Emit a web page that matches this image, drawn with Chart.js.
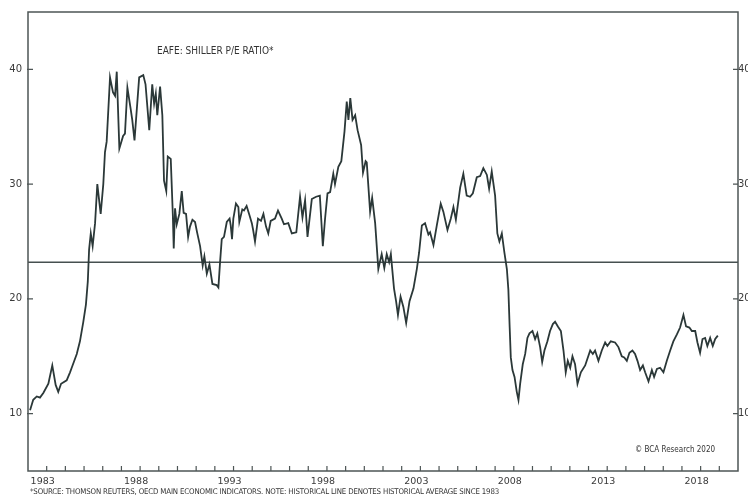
<!DOCTYPE html>
<html lang="en">
<head>
  <meta charset="UTF-8">
  <title>EAFE Shiller P/E Ratio</title>
  <style>
    body {
      margin: 0;
      background: white;
      font-family: "DejaVu Sans", sans-serif;
    }
    #wrap {
      position: relative;
      width: 748px;
      height: 502px;
      overflow: hidden;
    }
    canvas {
      display: block;
    }
    .note {
      position: absolute;
      white-space: nowrap;
      color: #333;
      font-family: "Liberation Sans Narrow", "DejaVu Sans Condensed", sans-serif;
    }
    #title { left: 157px; top: 45px; font-size: 10px; }
    #copy { left: 635px; top: 445px; font-size: 8px; }
    #source { left: 30px; top: 487px; font-size: 7.8px; letter-spacing: -0.15px; }
  </style>
  <script src="https://cdn.jsdelivr.net/npm/chart.js"></script>
</head>
<body>
  <div id="wrap">
    <canvas id="myChart" width="748" height="502"></canvas>
    <div class="note" id="title">EAFE: SHILLER P/E RATIO*</div>
    <div class="note" id="copy">© BCA Research 2020</div>
    <div class="note" id="source">*SOURCE: THOMSON REUTERS, OECD MAIN ECONOMIC INDICATORS. NOTE: HISTORICAL LINE DENOTES HISTORICAL AVERAGE SINCE 1983</div>
  </div>

  <script>
    // Shiller P/E (decimal years)
    const years = [
      1982.11,1982.28,1982.47,1982.64,1982.82,
      1983.09,1983.30,1983.48,1983.62,1983.77,
      1984.07,1984.25,1984.34,1984.61,1984.78,1984.96,
      1985.10,1985.20,1985.27,1985.36,1985.46,1985.59,1985.71,1985.89,
      1986.03,1986.12,1986.21,1986.39,1986.55,1986.66,1986.75,1986.89,
      1987.09,1987.19,1987.32,1987.49,1987.58,1987.70,1987.95,
      1988.17,1988.29,1988.49,1988.65,1988.75,1988.84,1988.92,
      1989.07,1989.19,1989.28,1989.40,1989.48,1989.64,1989.75,1989.80,1989.87,1989.96,
      1990.10,1990.23,1990.33,1990.46,1990.57,1990.67,1990.80,1990.94,
      1991.05,1991.21,1991.35,1991.44,1991.57,1991.71,1991.87,
      1992.10,1992.19,1992.28,1992.37,1992.49,1992.64,1992.79,1992.85,1992.92,1992.99,
      1993.13,1993.26,1993.31,1993.47,1993.56,1993.70,1993.85,1993.98,
      1994.05,1994.15,1994.31,1994.47,1994.60,1994.74,1994.86,1994.99,
      1995.22,1995.38,1995.58,1995.70,1995.93,
      1996.12,1996.36,1996.56,1996.69,1996.83,1996.96,
      1997.19,1997.42,1997.62,1997.78,1997.90,
      1998.03,1998.17,1998.34,1998.43,1998.61,1998.77,1998.94,
      1999.06,1999.15,1999.25,1999.37,1999.51,1999.64,1999.83,1999.93,
      2000.07,2000.13,2000.31,2000.42,2000.58,2000.75,2000.93,
      2001.07,2001.20,2001.33,2001.42,2001.59,2001.70,2001.80,2001.94,
      2002.09,2002.24,2002.42,2002.63,2002.81,2002.93,
      2003.08,2003.25,2003.43,2003.52,2003.70,2003.88,
      2004.09,2004.23,2004.45,2004.63,2004.77,2004.90,
      2005.13,2005.30,2005.48,2005.66,2005.81,
      2006.02,2006.20,2006.37,2006.56,2006.68,2006.82,
      2007.00,2007.12,2007.23,2007.36,2007.50,2007.63,2007.71,2007.78,2007.84,2007.93,
      2008.04,2008.16,2008.25,2008.34,2008.48,2008.61,2008.73,2008.84,
      2009.00,2009.14,2009.26,2009.41,2009.52,2009.64,2009.80,2009.94,
      2010.09,2010.21,2010.36,2010.52,2010.66,2010.78,2010.89,
      2011.02,2011.14,2011.28,2011.41,2011.59,2011.82,
      2012.09,2012.23,2012.35,2012.53,2012.71,2012.89,
      2013.01,2013.19,2013.42,2013.60,2013.78,2013.91,
      2014.05,2014.19,2014.35,2014.49,2014.62,2014.76,2014.91,
      2015.03,2015.21,2015.39,2015.51,2015.66,2015.83,
      2016.01,2016.19,2016.37,2016.54,2016.73,2016.90,
      2017.08,2017.22,2017.40,2017.53,2017.71,2017.83,2017.97,
      2018.10,2018.24,2018.36,2018.51,2018.65,2018.78,2018.92
    ];
    const peRatio = [
      10.3,11.2,11.5,11.4,11.8,
      12.6,14.2,12.5,11.9,12.6,
      12.9,13.6,14.0,15.2,16.3,18.0,
      19.5,21.5,24.3,25.7,24.6,26.6,30.0,27.4,
      30.0,32.8,33.7,39.3,38.0,37.7,39.8,33.1,
      34.2,34.4,38.4,36.6,35.6,33.8,39.3,
      39.5,38.7,34.7,38.7,37.0,37.9,36.0,
      38.5,36.0,30.3,29.4,32.4,32.2,27.4,24.4,27.9,26.5,
      27.4,29.4,27.5,27.4,25.4,26.3,26.9,26.7,
      25.8,24.6,22.9,23.7,22.2,23.0,21.3,
      21.2,21.0,23.2,25.2,25.4,26.7,27.0,26.4,25.2,27.0,
      28.3,28.0,26.7,27.8,27.7,28.1,27.3,26.6,
      26.0,25.0,27.0,26.8,27.4,26.3,25.7,26.8,
      27.0,27.7,27.0,26.5,26.6,
      25.7,25.8,28.9,27.1,28.6,25.4,
      28.7,28.9,29.0,24.6,27.0,
      29.2,29.3,30.9,30.0,31.5,32.0,34.6,
      37.2,35.6,37.5,35.6,36.0,34.7,33.4,31.0,
      32.0,31.9,27.6,28.8,26.6,22.6,23.9,
      22.7,23.9,23.2,23.9,20.9,19.8,18.6,20.2,
      19.3,17.9,19.8,20.9,22.6,24.0,
      26.4,26.6,25.6,25.8,24.7,26.4,
      28.3,27.6,26.0,27.0,28.0,26.9,
      29.7,30.9,29.0,28.9,29.2,
      30.6,30.7,31.4,30.8,29.6,31.1,
      29.0,25.7,25.0,25.7,24.0,22.6,20.8,17.5,14.9,13.8,
      13.2,11.9,11.2,12.6,14.3,15.2,16.6,17.0,
      17.2,16.5,17.0,15.8,14.5,15.5,16.3,17.2,
      17.8,18.0,17.6,17.2,15.5,13.6,14.6,
      14.0,15.0,14.3,12.6,13.6,14.2,
      15.5,15.2,15.5,14.6,15.5,16.2,
      15.9,16.3,16.2,15.8,15.0,14.9,
      14.6,15.3,15.5,15.2,14.6,13.8,14.2,
      13.6,12.8,13.8,13.2,13.9,14.0,
      13.6,14.6,15.5,16.3,16.9,17.5,
      18.6,17.6,17.5,17.2,17.2,16.2,15.3,
      16.5,16.6,15.9,16.6,15.9,16.5,16.8
    ];
    // historical average line
    const avgYears = [1982, 2020];
    const avgValue = 23.2;

    // axis ticks
    const tickYears = [];
    for (let y = 1983; y <= 2019; y++) tickYears.push(y);
    const labelYears = [1983, 1988, 1993, 1998, 2003, 2008, 2013, 2018];
    const yTicks = [10, 20, 30, 40];

    const seriesData = years.map((yr, i) => ({ x: yr, y: peRatio[i] }));
    const avgData = avgYears.map(yr => ({ x: yr, y: avgValue }));

    // frame plus inward tick marks
    const framePlugin = {
      id: 'frame',
      afterDatasetsDraw(chart) {
        const c = chart.ctx;
        const a = chart.chartArea;
        c.save();
        c.strokeStyle = '#4d5555';
        c.lineWidth = 1.5;
        c.strokeRect(a.left, a.top, a.right - a.left, a.bottom - a.top);
        c.lineWidth = 1.2;
        c.beginPath();
        chart.scales.x.ticks.forEach(t => {
          const px = chart.scales.x.getPixelForValue(t.value);
          c.moveTo(px, a.bottom);
          c.lineTo(px, a.bottom - 5);
        });
        chart.scales.y.ticks.forEach(t => {
          const py = chart.scales.y.getPixelForValue(t.value);
          c.moveTo(a.left - 1, py);
          c.lineTo(a.left + 5, py);
          c.moveTo(a.right - 5, py);
          c.lineTo(a.right, py);
        });
        c.stroke();
        c.restore();
      }
    };

    const ctx = document.getElementById('myChart').getContext('2d');
    const myChart = new Chart(ctx, {
      type: 'line',
      data: {
        datasets: [
          {
            label: 'EAFE Shiller P/E',
            data: seriesData,
            borderColor: '#2b3838',
            borderWidth: 1.8,
            pointRadius: 0,
            tension: 0
          },
          {
            label: 'Historical average',
            data: avgData,
            borderColor: '#465050',
            borderWidth: 1.5,
            pointRadius: 0
          }
        ]
      },
      options: {
        responsive: false,
        animation: false,
        devicePixelRatio: 1,
        layout: { padding: { top: 4, left: 0, right: 0, bottom: 0 } },
        plugins: {
          legend: { display: false },
          tooltip: { enabled: false }
        },
        scales: {
          x: {
            type: 'linear',
            min: 1982,
            max: 2020,
            grid: { display: false, drawTicks: false },
            border: { display: false },
            afterBuildTicks: s => { s.ticks = tickYears.map(v => ({ value: v })); },
            afterFit: s => { s.height = 31; },
            ticks: {
              autoSkip: false,
              maxRotation: 0,
              padding: 5,
              labelOffset: -4,
              color: '#3a3a3a',
              font: { family: 'DejaVu Sans', size: 9.5 },
              callback: v => labelYears.includes(v) ? String(v) : ''
            }
          },
          y: {
            position: 'left',
            min: 5,
            max: 45,
            grid: { display: false, drawTicks: false },
            border: { display: false },
            afterBuildTicks: s => { s.ticks = yTicks.map(v => ({ value: v })); },
            afterFit: s => { s.width = 28; },
            ticks: {
              padding: 6,
              color: '#3a3a3a',
              font: { family: 'DejaVu Sans', size: 10 }
            }
          },
          y2: {
            position: 'right',
            min: 5,
            max: 45,
            grid: { display: false, drawTicks: false },
            border: { display: false },
            afterBuildTicks: s => { s.ticks = yTicks.map(v => ({ value: v })); },
            afterFit: s => { s.width = 10; },
            ticks: {
              padding: 0,
              color: '#3a3a3a',
              font: { family: 'DejaVu Sans', size: 10 }
            }
          }
        }
      },
      plugins: [framePlugin]
    });
  </script>
</body>
</html>
